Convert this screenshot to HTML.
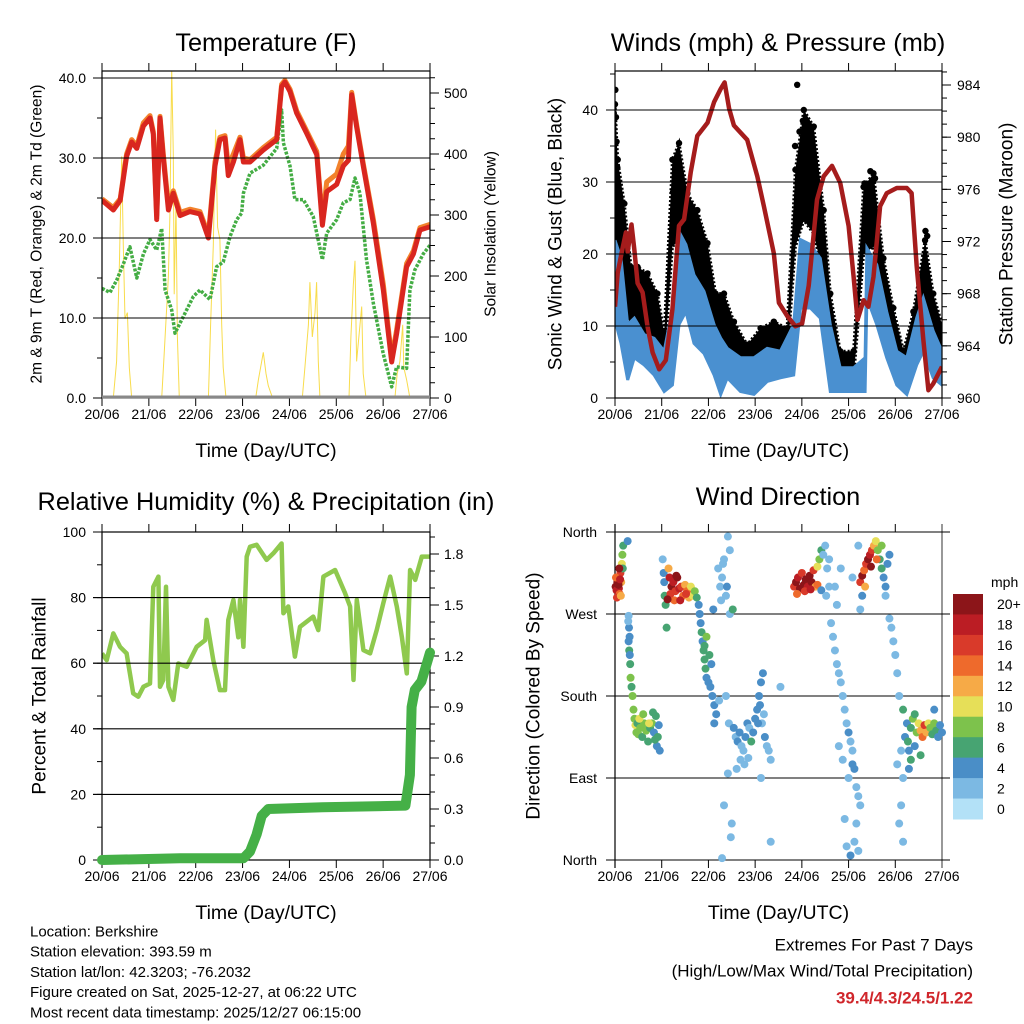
<!DOCTYPE html>
<html><head><meta charset="utf-8">
<style>
html,body{margin:0;padding:0;background:#fff;}
svg{display:block;font-family:"Liberation Sans",Arial,sans-serif;}
</style></head>
<body>
<svg id="chart" width="1024" height="1024" viewBox="0 0 1024 1024" xmlns="http://www.w3.org/2000/svg">
<g id="bg"></g>
</svg>
<script>
// ---------------- DATA ----------------
const dayLabels = ["20/06","21/06","22/06","23/06","24/06","25/06","26/06","27/06"];
// Temperature (F)
const tempHours = [0,5.8,9.3,12.6,15.2,17.8,21.2,24.6,26.3,28,29.7,31.4,34,36.5,40,45,50.2,54.5,57.9,60.4,63,64.7,67.3,70.7,72.4,75.8,82.6,89.5,92,93.7,96.3,99.7,104.8,110,112.9,115.1,120.2,123.6,126.2,127.9,130.4,133.9,139,144.1,148.4,150.9,156,159.5,162.9,168];
const tempRed = [24.7,23.5,24.7,30.2,32,31.2,34,35,33,22.3,35,30,23.5,25.6,22.8,23.3,23,20,29,32.3,32.5,27.8,29.5,32.3,29.5,29.5,31,32.3,38.9,39.5,38.3,35.6,33.1,30.4,21.6,25.8,26.7,29,29.7,37.9,33.9,28.9,21.8,13.5,4.5,8,16.4,18,21,21.4];
const tempOrange = [24.9,23.8,24.9,30.5,32.3,31.5,34.4,35.3,33.3,22.8,35.2,30.5,24,25.9,23.2,23.6,23.3,20.4,29.5,32.6,32.8,29,30.5,32.6,30,29.8,31.3,32.6,39.2,39.7,38.6,35.9,33.4,30.8,22.2,27,28,30.5,31.5,38.2,34.2,29.2,22.3,14.2,5,8.5,16.8,18.4,21.3,21.7];
const tdHours = [0,4.1,7.5,11,14.3,17.8,21.2,24.6,28,30.6,32.3,35.7,37.4,41.7,46.8,50.2,55.3,58.7,62.1,65.6,69,71.5,72.4,75.8,82.6,89.5,92,92.9,96.3,98.8,103.1,108.2,112.9,115.1,120.2,123.6,127,129.6,132.1,135.5,139,144.1,148.4,150.9,156,157.7,160.2,164.5,168];
const tdGreen = [13.7,13.2,14.7,16.8,18.9,15,18,19.8,18.5,21.2,13.5,11,8.1,10.2,12.7,13.5,12.3,16.4,17,20.2,22.3,23.1,25.6,28.1,29.1,31.2,36,31.9,29,24.8,24.8,22.7,17.3,20.6,22.3,24.4,24.8,27.5,25.6,17.3,11.8,5.5,1.4,3.9,3.7,13.5,16,18,19.1];
const solarHours = [0,5.8,7.5,8.9,10.1,10.9,11.8,13,14,15.2,30.6,31.8,34,34.8,35.7,36.5,37,37.9,38.6,39.6,54.5,55.6,57,58.2,59.2,60.4,61.3,62.1,63.5,78.7,80.1,81.8,82.6,84,85.2,87.4,102.6,103.9,105.7,106.5,107.7,109.1,109.9,110.8,111.6,126.5,127.5,128.7,129.6,130.4,131.3,133,133.8,135.2,150,151.2,152.6,154,154.6,156,157.7,168];
const solarVals = [0,0,60,220,396,250,130,140,50,0,0,70,200,300,540,400,170,320,100,0,0,120,250,440,280,260,120,50,0,0,30,60,75,40,20,0,0,50,120,190,100,140,190,60,0,0,100,185,225,60,90,150,40,0,0,40,60,120,50,30,0,0];
// Winds & pressure
const presHours = [0,1.4,3.1,5.6,6.5,8.5,9.9,11.6,14.2,16.7,19.3,22.7,26.1,29.5,32.9,35.5,38.9,42.3,47.5,50.9,54.3,56.3,58.6,61.1,67.9,73.1,76.5,81.6,84.2,88.4,92.7,96.1,99.5,103.8,107.2,111.5,115.7,120,122.6,124.6,127.7,130.2,132.8,136.2,139.6,144.8,149.9,152.4,155,158.4,161,163.5,168];
const presVals = [967,969.6,970.9,972.7,971.2,973.3,971.4,968.8,968.1,965.5,963.5,962.2,962.9,966.8,973.2,973.7,977.3,980.1,981.1,982.7,983.7,984.2,982.2,980.9,979.8,977,974.7,971.1,967.3,966.3,965.5,965.7,968.6,975.2,977,977.8,976.5,973.2,969.3,966,967.5,967,969.3,974.7,975.7,976.1,976.1,975.7,970.1,964.5,960.6,961.1,962.4];
const windHours = [0,3.1,6.5,9.9,15,20.1,25.3,29.5,32.9,36.4,40.6,45.7,50.9,54.3,57.7,64.5,71.4,78.2,85,91.8,95.3,100.4,105.5,110.6,115.7,122.6,128.5,129.4,134.5,139.6,144.8,149.9,155,158.4,163.5,168];
const windHigh = [21.9,19.4,10.2,11.1,8.8,8.3,6.5,12.5,23.1,21.3,17.1,14.8,10.2,8.3,6.9,5.6,5.6,6.9,6.5,10.2,22,21.3,19.4,10.2,4.2,4.2,5.6,20.8,18.5,12,6.5,5.6,11.1,13.9,9.3,6.5];
const windLow = [10.8,7.6,2.5,5.6,4.6,3.2,0.9,1.8,10.2,12,7.6,6.2,3.2,0.5,2.8,0.9,0.5,2.3,2.8,3.2,12.5,12.5,11.1,0.9,0.9,0.9,0.9,13.9,10.2,5.6,1.8,0.5,4.6,6.5,2.8,1.8];
const gustHours = [0,1.4,4.8,8.2,11.6,16.7,21.8,25.3,29.5,32.9,37.2,42.3,47.5,51.7,56,61.1,67.9,74.8,81.6,88.4,92.7,97,102.1,107.2,110.6,115.7,122.6,127.7,132.8,137.9,143,148.2,153.3,159.3,163.5,168];
const gustHigh = [40.8,33.1,27,18.2,18.2,17.3,14.5,9,33.1,35.4,28.4,26.1,21.5,14.5,14.5,10.6,7.4,9.7,10.6,9.7,31.7,40,37.7,26.1,14.5,6.5,6.5,29.3,31.2,19.4,12.5,6.5,12,21.9,14.5,10.2];
const gustLow = [21,18.2,12,10.2,9.3,7.9,6.5,4.6,21,21.9,17.3,14.5,12.5,9.3,7.4,5.6,3.2,4.6,5.6,5.6,21,24.7,22.8,16.8,7.9,2.8,2.8,20,21,11.1,6.5,3.2,6.5,12,8.3,4.6];
const gustOutHours = [0.2,0.5,0.8,1.2,29.8,31.5,34.5,92.5,93.6,94.8,96.5,99.2,101.5,128.2,131.2,133.6,159.5,160.4];
const gustOutVals = [42.8,39,35.6,32,28.6,30.2,27.8,35,43.5,37,38.5,36.2,35.6,29.8,31.5,30.5,23.2,22.5];
// Humidity & precip
const rhHours = [0,2.4,5.8,9.2,12.6,16,18.6,21.2,24.6,26.3,28.9,29.7,31.4,32.8,34,36.5,39.1,43.4,48.5,52.8,53.6,57,60.4,63,64.7,67.3,69.8,70.7,72.4,74.1,75.8,79.2,84.3,87.8,92,92.9,95.4,98.8,101.4,108.2,110.8,113.4,119.4,124.5,127.1,128.8,130.5,133.9,137.3,140.7,144.1,147.6,151,153.6,156.1,157.8,160.4,163.8,168];
const rhVals = [63,60.9,69.1,65,63,50.8,49.8,52.8,53.8,83.3,86.4,52.8,54.9,83.3,52.8,48.8,59.9,58.9,65,67,73.2,60.9,51.8,51.8,73.2,79.3,67.9,79.3,65,92.5,95.5,96.1,91.5,93.5,96.5,75.2,77.3,62,71.1,74.2,70.1,86.4,88.4,81.3,77.3,54.9,79.3,64,63,70.1,78.3,86.4,77.3,67.9,56.9,88.4,85.4,92.5,92.5];
const precipHours = [0,40,72.4,75.8,79.2,81.8,85.2,113,155.4,157.7,158.6,160.2,163.6,166.2,168];
const precipVals = [0,0.01,0.01,0.05,0.15,0.26,0.3,0.31,0.32,0.5,0.9,1.0,1.05,1.15,1.22];
// Wind direction scatter
const dirHours = [0.3,0.8,1.2,1.6,2,2.4,2.8,3.2,3.5,3.8,4,1,2.2,0.5,3,4.2,1.8,2.6,
6.5,7,7.2,7.5,7.3,7.8,8,8.5,9,7,7.6,6.8,
9.5,10,10.5,11,11.5,12,13,14,15,16,17,18,19,20,21,22,22.5,21.5,20.5,12.5,14.5,17.5,19.5,23,
24.5,25,25.3,25.5,26,26.5,27.5,28,29,30,31,32,33,34,35,36,37,38,39,40,41,42,30.5,33.5,36.5,28.5,31.5,27,
43,43.5,44,44.5,45,45.5,46,46.5,47,48,49,50,51,52,49.5,46,47,50.5,48.5,51,
53,54,55,56,57,58,59,54.5,55.5,57.5,59,53.5,58,56,59.5,57,55,60,58.5,60.5,
61,62,63,64,65,66,67,68,69,70,71,72,73,74,75,76,74.5,75.5,77,78,79,80,64.5,66.5,62.5,68.5,76.5,73.5,80,75,85,
92,93,94,95,96,97,98,99,100,101,102,103,104,105,106,93.5,97.5,100.5,104,106,107,108,109,110,108.5,110,
111,112,113,114,115,116,117,118,119,120,121,122,123,124,125,126,124,123,125,121,119,117,115,120,122,118,126,127,113,116,114,125,122,
126,127,128,129,130,131,132,133,134,135,136,137,138,139,140,141,128.5,131.5,134.5,137,139,141,
142,143,144,145,146,147,148,147,146,148,145,149,150,148,
150.5,151,152,153,154,155,156,157,158,159,160,161,162,163,164,165,166,167,168,152,151,154,157,164];
const dirDeg = [300,296,305,310,298,292,315,305,325,335,320,288,320,310,290,345,302,308,
350,268,255,245,230,215,200,190,180,240,225,262,
165,155,148,140,150,138,145,135,150,142,130,145,150,140,158,135,148,125,132,155,160,150,162,120,
330,315,305,290,280,255,320,310,300,305,295,310,298,300,290,302,295,288,300,290,295,288,285,285,292,292,312,286,
280,270,260,250,240,230,220,210,200,195,190,180,170,160,215,235,245,275,225,150,
320,300,310,330,290,355,340,285,325,300,270,175,95,60,25,180,2,40,150,275,
145,135,130,140,125,120,135,150,145,130,140,155,165,180,195,205,170,150,135,125,120,110,110,105,100,112,160,150,20,90,190,
300,305,310,298,315,302,308,300,312,305,318,300,322,330,340,292,295,297,302,296,335,345,320,300,290,330,
260,245,230,215,205,195,180,165,150,140,130,120,100,80,70,60,40,20,10,5,15,110,125,90,105,45,275,290,300,320,280,345,310,
305,312,318,325,330,335,340,345,350,340,330,320,310,300,325,335,300,322,330,345,290,265,
255,240,225,205,180,120,90,60,40,20,105,135,150,165,
130,120,145,155,160,140,150,142,135,148,140,150,145,138,150,142,135,148,140,110,100,125,115,165];
const dirSpeed = [20,18,20,16,18,14,16,12,10,8,6,16,20,14,12,6,20,18,
4,3,4,4,6,6,8,6,8,4,4,3,
8,9,10,8,7,9,8,6,9,8,7,6,8,5,6,7,4,4,6,10,8,10,6,4,
2,4,4,6,6,6,12,18,20,18,16,20,18,16,14,12,14,12,10,10,8,6,14,18,16,16,20,20,
4,4,4,6,4,6,6,6,4,4,4,4,4,4,4,6,8,4,6,4,
2,2,3,2,2,2,2,3,3,4,2,2,2,2,2,2,2,2,2,6,
4,3,4,4,3,2,4,4,3,6,4,4,4,4,4,4,4,3,4,3,2,2,2,2,2,2,3,4,2,2,2,
16,20,18,20,16,20,20,18,20,20,16,12,10,8,6,14,16,18,14,4,2,2,2,2,2,3,
2,2,2,2,2,2,2,2,2,4,3,2,4,2,3,2,2,2,2,4,2,2,2,3,4,2,2,4,2,2,2,2,2,
16,20,14,16,20,18,16,12,10,8,6,6,4,4,4,4,12,20,14,8,2,2,
2,2,3,2,2,2,2,2,2,2,2,4,4,6,
6,4,6,8,6,8,10,12,14,16,12,10,8,6,8,6,4,4,4,6,4,4,6,4];
const speedBinLabels = ["0","2","4","6","8","10","12","14","16","18","20+"];
const speedBinColors = ["#b3e1f7","#7cb9e3","#4a8ec7","#47a472","#7dc24c","#e6df58","#f6aa47","#ee6a2c","#d93a2a","#bb1d24","#8c1519"];
const extremesText = "39.4/4.3/24.5/1.22";

// ---------------- HELPERS ----------------
const NS = "http://www.w3.org/2000/svg";
const svg = document.getElementById("chart");
function mk(tag, attrs, parent, name, interact) {
  const node = document.createElementNS(NS, tag);
  for (const k in attrs) node.setAttribute(k, attrs[k]);
  
  
  (parent || svg).appendChild(node);
  return node;
}
function txt(s, x, y, size, anchor, parent, name, extra) {
  const a = Object.assign({x: x, y: y, 'font-size': size, 'text-anchor': anchor || 'middle', fill: '#000', 'dominant-baseline': 'central'}, extra || {});
  const t = mk('text', a, parent, name, false);
  t.textContent = s;
  return t;
}
function linScale(d0, d1, r0, r1) { return v => r0 + (v - d0) / (d1 - d0) * (r1 - r0); }
function pathFrom(xs, ys, sx, sy) {
  return xs.map((h, i) => (i ? 'L' : 'M') + sx(h).toFixed(1) + ',' + sy(ys[i]).toFixed(1)).join(' ');
}
function bandPath(xs, hi, lo, sx, sy) {
  let d = xs.map((h, i) => (i ? 'L' : 'M') + sx(h).toFixed(1) + ',' + sy(hi[i]).toFixed(1)).join(' ');
  for (let i = xs.length - 1; i >= 0; i--) d += ' L' + sx(xs[i]).toFixed(1) + ',' + sy(lo[i]).toFixed(1);
  return d + ' Z';
}

function panel(p) {
  const g = mk('g', {}, svg, p.name, false);
  const cp = mk('clipPath', {id: p.name + '-clip'}, g, p.name + '-clip', false);
  mk('rect', {x: p.x0, y: p.y0, width: p.x1 - p.x0, height: p.y1 - p.y0}, cp, p.name + '-clip-rect', false);
  p.g = g;
  p.data = mk('g', {'clip-path': 'url(#' + p.name + '-clip)'}, g, p.name + '-plot-area', false);
  p.front = mk('g', {}, g, p.name + '-axes', false);
  return p;
}
function xAxis(p) {
  const sx = linScale(0, 168, p.x0, p.x1);
  dayLabels.forEach((lab, i) => {
    const x = sx(i * 24);
    mk('line', {x1: x, x2: x, y1: p.y1, y2: p.y1 + 8, stroke: '#000', 'stroke-width': 1}, p.front, 'x-tick-bottom', false);
    mk('line', {x1: x, x2: x, y1: p.y0, y2: p.y0 - 8, stroke: '#000', 'stroke-width': 1}, p.front, 'x-tick-top', false);
    txt(lab, x, p.y1 + 16, 14, 'middle', p.front, 'x-tick-label');
  });
  txt('Time (Day/UTC)', (p.x0 + p.x1) / 2, p.y1 + 53, 19.5, 'middle', p.front, 'x-axis-title');
  return sx;
}
function box(p) {
  mk('rect', {x: p.x0, y: p.y0, width: p.x1 - p.x0, height: p.y1 - p.y0, fill: 'none', stroke: '#000', 'stroke-width': 1.2}, p.front, 'plot-frame', false);
}
function yTicks(p, side, sy, majors, minors, fmt, labelX, grid) {
  const dir = side === 'left' ? -1 : 1;
  const xe = side === 'left' ? p.x0 : p.x1;
  minors.forEach(v => {
    mk('line', {x1: xe, x2: xe + dir * 5, y1: sy(v), y2: sy(v), stroke: '#000', 'stroke-width': 1}, p.front, side + '-minor-tick', false);
  });
  majors.forEach(v => {
    const y = sy(v);
    mk('line', {x1: xe, x2: xe + dir * 9, y1: y, y2: y, stroke: '#000', 'stroke-width': 1}, p.front, side + '-major-tick', false);
    if (grid) mk('line', {x1: p.x0 - 9, x2: p.x1, y1: y, y2: y, stroke: '#000', 'stroke-width': 1.1}, p.g, 'grid-line', false);
    txt(fmt(v), labelX, y, 14, side === 'left' ? 'end' : 'start', p.front, side + '-tick-label');
  });
}
function range(a, b, s) { const r = []; for (let v = a; v <= b + 1e-9; v += s) r.push(+v.toFixed(4)); return r; }

// ---------------- TITLES ----------------
txt('Temperature (F)', 266, 43, 25.3, 'middle', svg, 'temperature-title');
txt('Winds (mph) & Pressure (mb)', 778, 43, 25.3, 'middle', svg, 'winds-title');
txt('Relative Humidity (%) & Precipitation (in)', 266, 502, 25.3, 'middle', svg, 'humidity-title');
txt('Wind Direction', 778, 497, 25.3, 'middle', svg, 'wind-direction-title');

// ---------------- PANEL 1: TEMPERATURE ----------------
(function(){
  const p = panel({name: 'temperature-panel', x0: 102, x1: 430, y0: 71, y1: 398});
  const sx = xAxis(p);
  const sy = linScale(0, 40, 398, 78);
  const sSol = linScale(0, 500, 398, 93);
  yTicks(p, 'left', sy, [0,10,20,30,40], range(0,40,5), v => v.toFixed(1), 86, true);
  yTicks(p, 'right', sSol, [0,100,200,300,400,500], range(0,525,25), v => String(v), 444, false);
  mk('line', {x1: p.x0, x2: p.x1, y1: 397, y2: 397, stroke: '#888', 'stroke-width': 3}, p.g, 'zero-line', false);
  mk('path', {d: pathFrom(solarHours, solarVals, sx, sSol), fill: 'none', stroke: '#f8dc4c', 'stroke-width': 1}, p.data, 'solar-insolation-line', false);
  mk('path', {d: pathFrom(tdHours, tdGreen, sx, sy), fill: 'none', stroke: '#44ad44', 'stroke-width': 3.5, 'stroke-dasharray': '3 1.5', 'stroke-linejoin': 'round'}, p.data, 'dewpoint-line', false);
  mk('path', {d: pathFrom(tempHours, tempOrange, sx, sy), fill: 'none', stroke: '#f2822c', 'stroke-width': 5, 'stroke-linejoin': 'round'}, p.data, 'temp-9m-line', false);
  mk('path', {d: pathFrom(tempHours, tempRed, sx, sy), fill: 'none', stroke: '#d9261f', 'stroke-width': 5, 'stroke-linejoin': 'round'}, p.data, 'temp-2m-line', false);
  box(p);
  txt('2m & 9m T (Red, Orange) & 2m Td (Green)', 37, 234, 15.5, 'middle', svg, 'temp-y-axis-title', {transform: 'rotate(-90 37 234)'});
  txt('Solar Insolation (Yellow)', 491, 234, 15.5, 'middle', svg, 'solar-y-axis-title', {transform: 'rotate(-90 491 234)'});
})();

// ---------------- PANEL 2: WINDS ----------------
(function(){
  const p = panel({name: 'winds-panel', x0: 615, x1: 942, y0: 71, y1: 398});
  const sx = xAxis(p);
  const sy = linScale(0, 40, 398, 110);
  const sp = linScale(960, 984, 398, 85);
  yTicks(p, 'left', sy, [0,10,20,30,40], range(0,45,5), v => String(v), 598, true);
  yTicks(p, 'right', sp, [960,964,968,972,976,980,984], range(960,985,1), v => String(v), 957, false);
  mk('path', {d: bandPath(gustHours, gustHigh, gustLow, sx, sy), fill: '#000', stroke: '#000', 'stroke-width': 3, 'stroke-dasharray': '2 2'}, p.data, 'gust-band', false);
  gustHours.forEach((h, i) => {
    mk('circle', {cx: sx(h), cy: sy(gustHigh[i]), r: 3.2, fill: '#000'}, p.data, 'gust-point', false);
  });
  gustOutHours.forEach((h, i) => {
    mk('circle', {cx: sx(h), cy: sy(gustOutVals[i]), r: 3.2, fill: '#000'}, p.data, 'gust-outlier-point', false);
  });
  mk('path', {d: bandPath(windHours, windHigh, windLow, sx, sy), fill: '#4a90d0', stroke: '#4a90d0', 'stroke-width': 3}, p.data, 'sonic-wind-band', false);
  mk('path', {d: pathFrom(presHours, presVals, sx, sp), fill: 'none', stroke: '#a51c1c', 'stroke-width': 4.5, 'stroke-linejoin': 'round'}, p.data, 'pressure-line', false);
  box(p);
  txt('Sonic Wind & Gust (Blue, Black)', 556, 234, 19, 'middle', svg, 'wind-y-axis-title', {transform: 'rotate(-90 556 234)'});
  txt('Station Pressure (Maroon)', 1007, 234, 19, 'middle', svg, 'pressure-y-axis-title', {transform: 'rotate(-90 1007 234)'});
})();

// ---------------- PANEL 3: HUMIDITY ----------------
(function(){
  const p = panel({name: 'humidity-panel', x0: 102, x1: 430, y0: 532, y1: 860});
  const sx = xAxis(p);
  const sy = linScale(0, 100, 860, 532);
  const sr = linScale(0, 1.8, 860, 554);
  yTicks(p, 'left', sy, [0,20,40,60,80,100], range(0,100,10), v => String(v), 86, true);
  yTicks(p, 'right', sr, [0,0.3,0.6,0.9,1.2,1.5,1.8], range(0,1.9,0.1), v => v.toFixed(1), 444, false);
  mk('path', {d: pathFrom(rhHours, rhVals, sx, sy), fill: 'none', stroke: '#8fc94e', 'stroke-width': 4.5, 'stroke-linejoin': 'round'}, p.data, 'humidity-line', false);
  mk('path', {d: pathFrom(precipHours, precipVals, sx, sr), fill: 'none', stroke: '#45b047', 'stroke-width': 10, 'stroke-linejoin': 'round', 'stroke-linecap': 'round'}, p.g, 'precipitation-line', false);
  box(p);
  txt('Percent & Total Rainfall', 40, 696, 19, 'middle', svg, 'humidity-y-axis-title', {transform: 'rotate(-90 40 696)'});
})();

// ---------------- PANEL 4: WIND DIRECTION ----------------
(function(){
  const p = panel({name: 'wind-direction-panel', x0: 615, x1: 942, y0: 532, y1: 860});
  const sx = xAxis(p);
  const sy = linScale(0, 360, 860, 532);
  const dirLabels = ["North","East","South","West","North"];
  [0,90,180,270,360].forEach((v, i) => {
    const y = sy(v);
    mk('line', {x1: p.x0 - 9, x2: p.x1 + 8, y1: y, y2: y, stroke: '#000', 'stroke-width': 1.1}, p.g, 'direction-grid-line', false);
    txt(dirLabels[i], 597, y, 14, 'end', p.front, 'direction-tick-label');
  });
  dirHours.forEach((h, i) => {
    const bin = Math.min(10, Math.floor(dirSpeed[i] / 2));
    mk('circle', {cx: sx(h), cy: sy(dirDeg[i]), r: 4, fill: speedBinColors[bin]}, p.g, 'direction-point', false);
  });
  mk('line', {x1: p.x0, x2: p.x0, y1: p.y0 - 8, y2: p.y1 + 8, stroke: '#000', 'stroke-width': 1.2}, p.front, 'left-axis-line', false);
  mk('line', {x1: p.x1, x2: p.x1, y1: p.y0 - 8, y2: p.y1 + 8, stroke: '#555', 'stroke-width': 1.2}, p.front, 'right-axis-line', false);
  txt('Direction (Colored By Speed)', 534, 696, 19, 'middle', svg, 'direction-y-axis-title', {transform: 'rotate(-90 534 696)'});
  const cb = mk('g', {}, svg, 'speed-colorbar', false);
  txt('mph', 991, 582, 14, 'start', cb, 'colorbar-unit-label');
  const segH = 225 / 11;
  speedBinLabels.forEach((lab, i) => {
    const idx = 10 - i;
    const y = 594 + i * segH;
    mk('rect', {x: 953, y: y, width: 30, height: segH + 0.5, fill: speedBinColors[idx]}, cb, 'colorbar-segment', false);
    txt(speedBinLabels[idx], 997, y + segH / 2, 14, 'start', cb, 'colorbar-label');
  });
})();

// ---------------- FOOTER ----------------
const infoLines = ["Location: Berkshire","Station elevation: 393.59 m","Station lat/lon: 42.3203; -76.2032","Figure created on Sat, 2025-12-27, at 06:22 UTC","Most recent data timestamp: 2025/12/27 06:15:00"];
infoLines.forEach((s, i) => { txt(s, 30, 932 + i * 20.2, 15, 'start', svg, 'station-info-line'); });
txt('Extremes For Past 7 Days', 973, 945, 17, 'end', svg, 'extremes-heading');
txt('(High/Low/Max Wind/Total Precipitation)', 973, 971, 17, 'end', svg, 'extremes-subheading');
txt(extremesText, 973, 998, 17, 'end', svg, 'extremes-values', {fill: '#d0262b', 'font-weight': 'bold'});
</script>
</body></html>
